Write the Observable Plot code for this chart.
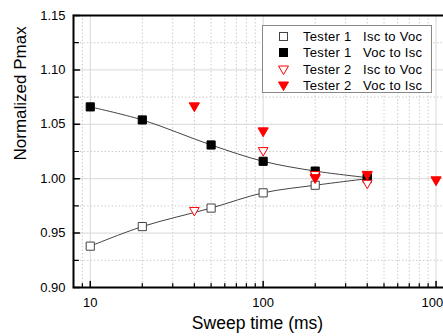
<!DOCTYPE html>
<html>
<head>
<meta charset="utf-8">
<script src="https://cdn.jsdelivr.net/npm/d3@7"></script>
<script src="https://cdn.jsdelivr.net/npm/@observablehq/plot@0.6"></script>
<style>
  html, body { margin: 0; padding: 0; background: #fff; }
  #wrap { position: relative; width: 443px; height: 336px; overflow: hidden; }
  #chart svg { max-width: none !important; width: 470px; height: 336px; }
  #legend { position: absolute; left: 262px; top: 25px; width: 170px; height: 68px;
    border: 1px solid #888; background: #fff; font-family: "Liberation Sans", Arial, sans-serif;
    font-size: 13px; letter-spacing: 0.3px; color: #000; box-sizing: border-box; }
  .row { position: absolute; left: 0; height: 15px; line-height: 15px; white-space: nowrap; }
  .row svg { position: absolute; left: 14px; top: 1px; }
  .row .a { position: absolute; left: 40px; top: 0; }
  .row .b { position: absolute; left: 100px; top: 0; }
</style>
</head>
<body>
<div id="wrap"><div id="chart"></div><div id="legend"></div></div>
<script>
// ---- data ----
const t1Time = [10, 20, 50, 100, 200, 400];
const t1IscVoc = [0.938, 0.956, 0.973, 0.987, 0.994, 1.000];
const t1VocIsc = [1.066, 1.054, 1.031, 1.016, 1.007, 1.001];
const t2IscTime = [40, 100, 200, 400];
const t2IscVoc = [0.971, 1.026, 1.004, 0.996];
const t2VocTime = [40, 100, 200, 400, 1000];
const t2VocIsc = [1.067, 1.044, 1.001, 1.004, 0.999];

const seriesTester = ["Tester 1", "Tester 1", "Tester 2", "Tester 2"];
const seriesMode = ["Isc to Voc", "Voc to Isc", "Isc to Voc", "Voc to Isc"];

const xMajor = [10, 100, 1000];
const xMinor = [9, 20, 30, 40, 50, 60, 70, 80, 90, 200, 300, 400, 500, 600, 700, 800, 900];
const yMajor = [0.90, 0.95, 1.00, 1.05, 1.10, 1.15];
const yMinor = [0.925, 0.975, 1.025, 1.075, 1.125];
const xLabel = "Sweep time (ms)";
const yLabel = "Normalized Pmax";

const t1A = t1Time.map((t, i) => ({t, v: t1IscVoc[i]}));
const t1B = t1Time.map((t, i) => ({t, v: t1VocIsc[i]}));
const t2A = t2IscTime.map((t, i) => ({t, v: t2IscVoc[i]}));
const t2B = t2VocTime.map((t, i) => ({t, v: t2VocIsc[i]}));

const tickLine = {draw(ctx, l) { ctx.moveTo(0, 0); ctx.lineTo(0, -l); }};
const FONT = "'Liberation Sans', Arial, sans-serif";

const chart = Plot.plot({
  width: 470, height: 336,
  marginLeft: 73, marginRight: 4, marginTop: 15, marginBottom: 49,
  style: {fontFamily: FONT, fontSize: "13px", background: "#fff", maxWidth: "none"},
  x: {type: "log", domain: [8, 1500]},
  y: {domain: [0.90, 1.15]},
  marks: [
    Plot.gridX(xMinor, {stroke: "#ccc", strokeOpacity: 1, strokeDasharray: "1.5,2"}),
    Plot.gridY(yMinor, {stroke: "#ccc", strokeOpacity: 1, strokeDasharray: "1.5,2"}),
    Plot.gridX(xMajor, {stroke: "#d8d8d8", strokeOpacity: 1}),
    Plot.gridY(yMajor, {stroke: "#d8d8d8", strokeOpacity: 1}),
    Plot.axisX(xMajor, {tickSize: 0, tickPadding: 10, tickFormat: d => String(d), label: null, fontSize: 13}),
    Plot.axisY(yMajor, {tickSize: 0, tickPadding: 8, tickFormat: d3.format(".2f"), label: null, fontSize: 13}),
    Plot.vector(xMajor, {x: d => d, frameAnchor: "bottom", length: 6, rotate: 0, anchor: "start", shape: tickLine, stroke: "#000", strokeWidth: 1.5}),
    Plot.vector(xMinor, {x: d => d, frameAnchor: "bottom", length: 4, rotate: 0, anchor: "start", shape: tickLine, stroke: "#000", strokeWidth: 1.2}),
    Plot.vector(yMajor, {y: d => d, frameAnchor: "left", length: 6, rotate: 90, anchor: "start", shape: tickLine, stroke: "#000", strokeWidth: 1.5}),
    Plot.vector(yMinor, {y: d => d, frameAnchor: "left", length: 5, rotate: 90, anchor: "start", shape: tickLine, stroke: "#000", strokeWidth: 1.2}),
    Plot.line(t1A, {x: "t", y: "v", curve: "catmull-rom", stroke: "#444", strokeWidth: 1}),
    Plot.line(t1B, {x: "t", y: "v", curve: "catmull-rom", stroke: "#444", strokeWidth: 1}),
    Plot.dot(t1A, {x: "t", y: "v", symbol: "square", r: 4.6, fill: "#fff", stroke: "#444", strokeWidth: 1}),
    Plot.dot(t1B, {x: "t", y: "v", symbol: "square", r: 4.6, fill: "#000", stroke: "#000", strokeWidth: 1}),
    Plot.dot(t2A, {x: "t", y: "v", symbol: "triangle", rotate: 180, r: 3.6, fill: "#fff", stroke: "#f00", strokeWidth: 1}),
    Plot.dot(t2B, {x: "t", y: "v", symbol: "triangle", rotate: 180, r: 3.8, fill: "#f00", stroke: "#f00", strokeWidth: 1}),
    Plot.frame({stroke: "#000", strokeWidth: 2}),
    Plot.text([xLabel], {text: d => d, frameAnchor: "bottom", dy: 41, dx: -12.5, fontSize: 17.5, fontFamily: FONT, fill: "#000"}),
    Plot.text([yLabel], {text: d => d, frameAnchor: "left", rotate: -90, dx: -53, dy: 9, fontSize: 17, fontFamily: FONT, fill: "#000"})
  ]
});
document.getElementById("chart").appendChild(chart);

// ---- legend ----
const legend = document.getElementById("legend");
const legendSym = [
  `<rect x="2.5" y="2.5" width="8" height="8" fill="#fff" stroke="#444"/>`,
  `<rect x="2.5" y="2.5" width="8" height="8" fill="#000" stroke="#000"/>`,
  `<path d="M1.5,3 L11.5,3 L6.5,11.5 Z" fill="#fff" stroke="#f00"/>`,
  `<path d="M1.5,3 L11.5,3 L6.5,11.5 Z" fill="#f00" stroke="#f00"/>`
];
seriesTester.forEach((t, i) => {
  const row = document.createElement("div");
  row.className = "row";
  row.style.top = (3 + i * 16.3) + "px";
  row.innerHTML = `<svg width="13" height="13">${legendSym[i]}</svg><span class="a">${t}</span><span class="b">${seriesMode[i]}</span>`;
  legend.appendChild(row);
});
</script>
</body>
</html>
